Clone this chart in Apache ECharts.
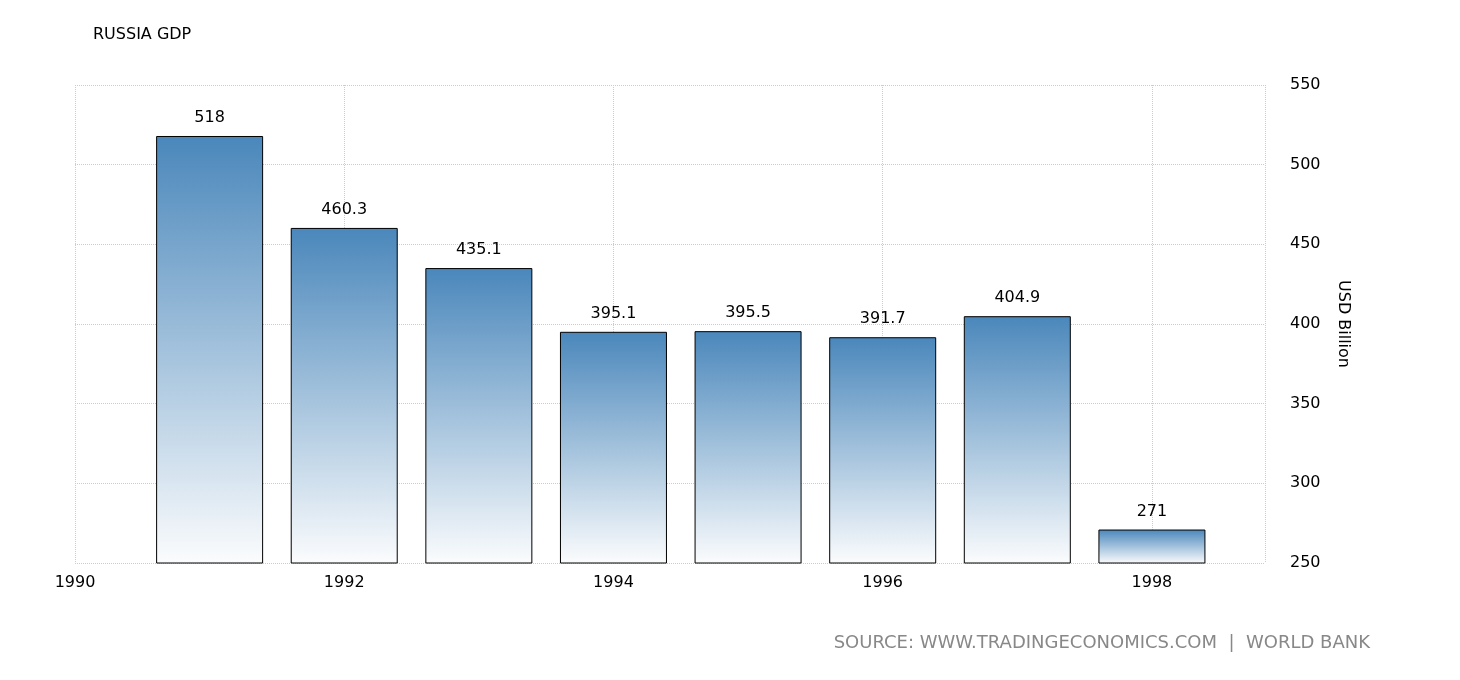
<!DOCTYPE html>
<html><head><meta charset="utf-8">
<script src="https://cdn.jsdelivr.net/npm/echarts@6/dist/echarts.min.js"></script>
<style>html,body{margin:0;padding:0;background:#fff}#c{width:1460px;height:680px}</style>
</head><body><div id="c"></div>
<script>
const years = [1991, 1992, 1993, 1994, 1995, 1996, 1997, 1998];
const gdp = [518, 460.3, 435.1, 395.1, 395.5, 391.7, 404.9, 271];
const yTicks = [250, 300, 350, 400, 450, 500, 550];

const chart = echarts.init(document.getElementById('c'));
chart.setOption({
  animation: false,
  title: { text: 'RUSSIA GDP', left: 88, top: 22, textStyle: { fontFamily: 'DejaVu Sans', fontSize: 16, fontWeight: 'normal', color: '#000' } },
  graphic: [{ type: 'text', right: 90, top: 634, style: { text: 'SOURCE: WWW.TRADINGECONOMICS.COM  |  WORLD BANK', fill: '#888', font: '18px "DejaVu Sans"' } }],
  grid: { left: 75, right: 195, top: 85, bottom: 117 },
  xAxis: {
    type: 'value', min: 1990, max: 1998.84, interval: 2,
    axisLine: { show: false }, axisTick: { show: false },
    axisLabel: { fontFamily: 'DejaVu Sans', fontSize: 16, color: '#000', margin: 12, showMaxLabel: false,
      formatter: v => String(v) },
    splitLine: { show: true, lineStyle: { color: '#ccc', type: 'dotted' } }
  },
  yAxis: {
    type: 'value', position: 'right', min: yTicks[0], max: yTicks[yTicks.length - 1], interval: 50,
    name: 'USD Billion', nameLocation: 'middle', nameRotate: -90, nameGap: 70,
    nameTextStyle: { fontFamily: 'DejaVu Sans', fontSize: 16, color: '#000' },
    axisLine: { show: false }, axisTick: { show: false },
    axisLabel: { fontFamily: 'DejaVu Sans', fontSize: 16, color: '#000', margin: 25 },
    splitLine: { show: true, lineStyle: { color: '#ccc', type: 'dotted' } }
  },
  series: [{
    type: 'bar', barWidth: 107,
    data: years.map((y, i) => [y, gdp[i]]),
    itemStyle: {
      borderColor: '#000', borderWidth: 1,
      color: new echarts.graphic.LinearGradient(0, 0, 0, 1, [{ offset: 0, color: '#4a87bb' }, { offset: 1, color: '#fbfcfd' }])
    },
    label: { show: true, position: 'top', distance: 10, fontFamily: 'DejaVu Sans', fontSize: 16, color: '#000',
      formatter: p => String(p.value[1]) }
  }]
});
</script></body></html>
